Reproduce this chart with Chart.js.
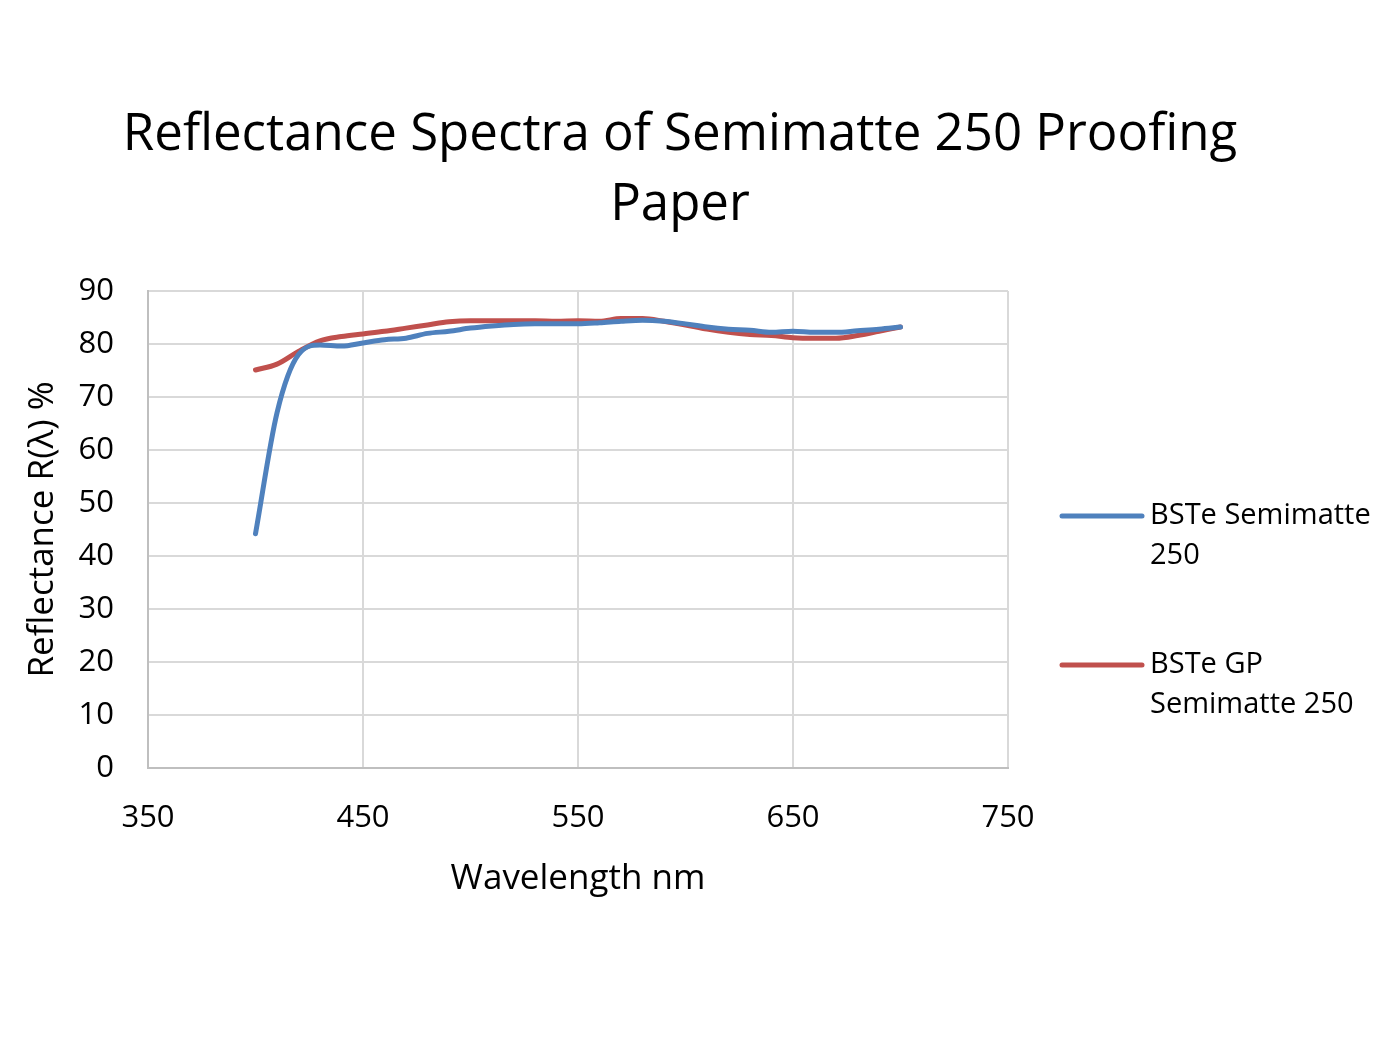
<!DOCTYPE html>
<html>
<head>
<meta charset="utf-8">
<script src="https://cdn.jsdelivr.net/npm/chart.js@4/dist/chart.umd.min.js"></script>
<style>
  html, body { margin: 0; padding: 0; background: #ffffff; }
  canvas { display: block; }
</style>
</head>
<body>
<canvas id="chart" width="1386" height="1039"></canvas>
<script>
// wavelengths (nm) and reflectance readings
const wavelengths = [400, 410, 420, 430, 440, 450, 460, 470, 480, 490, 500, 510, 520, 530, 540, 550,
    560, 570, 580, 590, 600, 610, 620, 630, 640, 650, 660, 670, 680, 690, 700];
const semimatte = [44.2, 67, 78, 79.8, 79.6, 80.2, 80.8, 81.1, 82, 82.4, 83, 83.4, 83.7, 83.8, 83.8, 83.8,
    84, 84.3, 84.5, 84.3, 83.8, 83.2, 82.8, 82.6, 82.2, 82.4, 82.2, 82.2, 82.5, 82.8, 83.2];
const gpSemimatte = [75.1, 76.2, 78.6, 80.6, 81.4, 81.9, 82.4, 83, 83.6, 84.2, 84.4, 84.4, 84.4, 84.4, 84.3, 84.4,
    84.3, 84.8, 84.8, 84.3, 83.6, 82.8, 82.2, 81.8, 81.6, 81.2, 81.1, 81.1, 81.6, 82.4, 83.2];
const seriesLabels = [['BSTe Semimatte', '250'], ['BSTe GP', 'Semimatte 250']];
const titleLines = ['Reflectance Spectra of Semimatte 250 Proofing', 'Paper'];
const xTicks = [350, 450, 550, 650, 750];
const yTicks = [0, 10, 20, 30, 40, 50, 60, 70, 80, 90];

const FONT = "'Open Sans', 'Liberation Sans', sans-serif";
const BLUE = '#4f81bd';
const RED = '#c0504d';

const toPoints = (ys) => wavelengths.map((x, i) => ({ x: x, y: ys[i] }));

// title + wrapped legend, drawn by hand so they can sit where the original has them
const decorations = {
    id: 'decorations',
    afterDraw(chart) {
        const ctx = chart.ctx;
        ctx.save();
        ctx.fillStyle = '#000';
        ctx.textAlign = 'center';
        ctx.textBaseline = 'middle';
        ctx.font = '51px ' + FONT;
        titleLines.forEach((t, i) => ctx.fillText(t, 680, 135 + i * 70));

        const rows = [516, 665];
        chart.data.datasets.forEach((ds, i) => {
            const y = rows[i];
            ctx.strokeStyle = ds.borderColor;
            ctx.lineWidth = 5;
            ctx.lineCap = 'round';
            ctx.beginPath();
            ctx.moveTo(1062, y);
            ctx.lineTo(1142, y);
            ctx.stroke();
            ctx.textAlign = 'left';
            ctx.font = '29px ' + FONT;
            ctx.fillStyle = '#000';
            seriesLabels[i].forEach((line, j) => ctx.fillText(line, 1150, y + j * 40));
        });
        ctx.restore();
    }
};

new Chart(document.getElementById('chart'), {
    type: 'line',
    data: {
        datasets: [
            { label: seriesLabels[0].join(' '), data: toPoints(semimatte), borderColor: BLUE, backgroundColor: BLUE },
            { label: seriesLabels[1].join(' '), data: toPoints(gpSemimatte), borderColor: RED, backgroundColor: RED }
        ]
    },
    options: {
        responsive: false,
        animation: false,
        layout: { padding: { top: 291, right: 378, bottom: 135, left: 18 } },
        elements: {
            line: { borderWidth: 5, tension: 0.4, cubicInterpolationMode: 'monotone', borderCapStyle: 'round' },
            point: { radius: 0 }
        },
        plugins: {
            legend: { display: false },
            title: { display: false },
            tooltip: { enabled: false }
        },
        scales: {
            x: {
                type: 'linear',
                min: 350,
                max: 750,
                afterBuildTicks: (s) => { s.ticks = xTicks.map(v => ({ value: v })); },
                afterFit: (s) => { s.height = 136; },
                grid: { color: '#d9d9d9', lineWidth: 2, drawTicks: false },
                border: { color: '#bfbfbf', width: 2 },
                ticks: { color: '#000', font: { family: FONT, size: 31 }, padding: 32 },
                title: { display: true, text: 'Wavelength nm', color: '#000', font: { family: FONT, size: 35 }, padding: { top: 2, bottom: 4 } }
            },
            y: {
                min: 0,
                max: 90,
                afterBuildTicks: (s) => { s.ticks = yTicks.map(v => ({ value: v })); },
                afterFit: (s) => { s.width = 130; },
                grid: { color: '#d9d9d9', lineWidth: 2, drawTicks: false },
                border: { color: '#bfbfbf', width: 2 },
                ticks: { color: '#000', font: { family: FONT, size: 31 }, padding: 34 },
                title: { display: true, text: 'Reflectance R(λ) %', color: '#000', font: { family: FONT, size: 35 }, padding: { bottom: 6 } }
            }
        }
    },
    plugins: [decorations]
});
</script>
</body>
</html>
